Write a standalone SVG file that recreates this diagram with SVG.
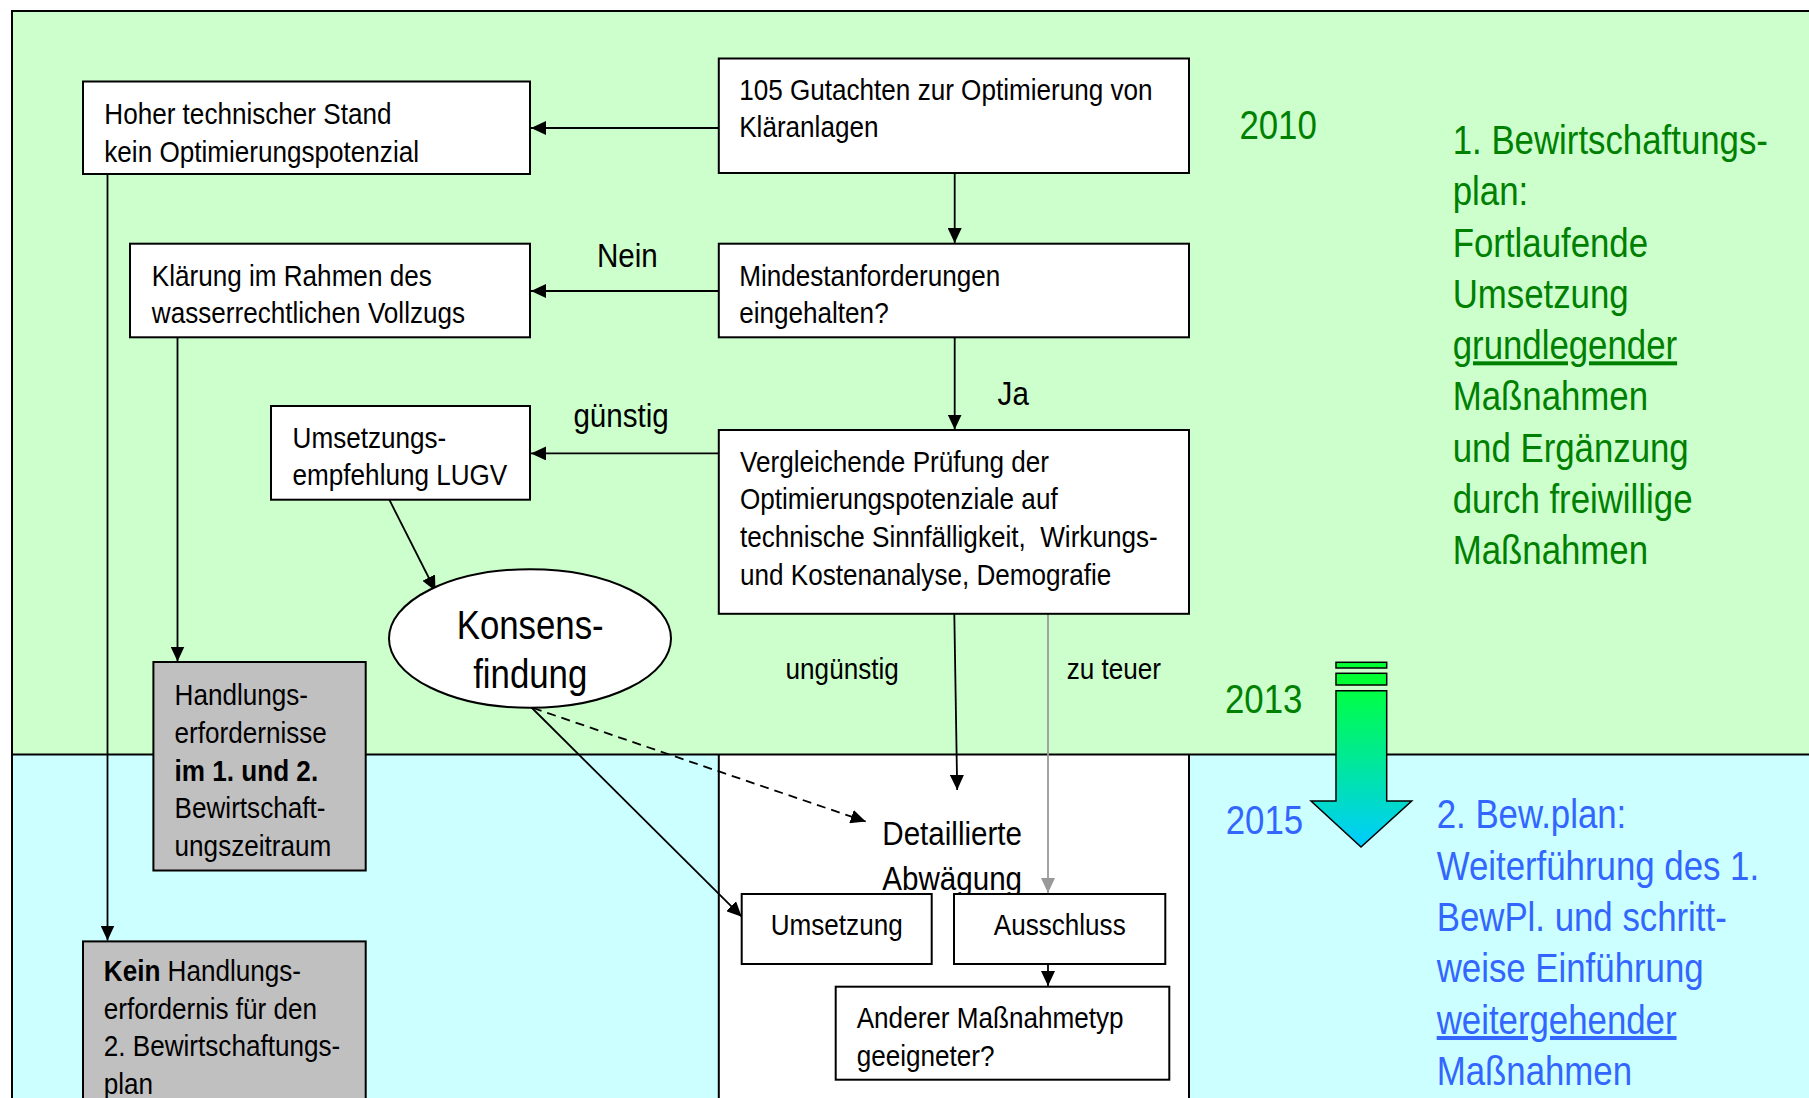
<svg xmlns="http://www.w3.org/2000/svg" width="1809" height="1098" viewBox="0 0 1809 1098">
<style>
.t{font-family:"Liberation Sans",Arial,sans-serif;font-size:30px;fill:#000}
.box{fill:#fff;stroke:#000;stroke-width:2}
.gbox{fill:#c0c0c0;stroke:#000;stroke-width:2}
.c{fill:none;stroke:#000;stroke-width:1.8}
.gr{fill:#008000;font-size:40px}
.bl{fill:#3366ff;font-size:40px}
.lab{font-size:34px}
</style>
<defs>
<marker id="ah" markerWidth="15" markerHeight="14" viewBox="0 0 15 14" refX="15" refY="7" orient="auto" markerUnits="userSpaceOnUse"><path d="M0,0 L15,7 L0,14 z" fill="#000"/></marker>
<marker id="ahg" markerWidth="15" markerHeight="14" viewBox="0 0 15 14" refX="15" refY="7" orient="auto" markerUnits="userSpaceOnUse"><path d="M0,0 L15,7 L0,14 z" fill="#999"/></marker>
<linearGradient id="arrGrad" x1="0" y1="690" x2="0" y2="847" gradientUnits="userSpaceOnUse">
<stop offset="0" stop-color="#00ff44"/><stop offset="1" stop-color="#00ccff"/>
</linearGradient>
</defs>

<g id="background">
<rect x="12" y="11" width="1800" height="743.5" fill="#ccffcc"/>
<rect x="12" y="754.5" width="1800" height="350" fill="#ccffff"/>
<rect x="718.8" y="754.5" width="470.2" height="350" fill="#fff"/>
<path d="M12,1100 V11 H1812" fill="none" stroke="#000" stroke-width="2"/>
<path d="M12,754.5 H1812" fill="none" stroke="#000" stroke-width="2"/>
<path d="M718.8,754.5 V1100 M1189,754.5 V1100" fill="none" stroke="#000" stroke-width="2"/>
</g>

<g id="labels-time">
<text class="t gr" transform="translate(1239.4,138.5) scale(.87,1)">2010</text>
<text class="t gr" transform="translate(1225,713.3) scale(.87,1)">2013</text>
<text class="t bl" transform="translate(1225.7,834.3) scale(.87,1)">2015</text>
</g>

<g id="text-plan1">
<text class="t gr" transform="translate(1452.7,154) scale(.87,1)">
<tspan x="0" y="0">1. Bewirtschaftungs-</tspan>
<tspan x="0" y="51.3">plan:</tspan>
<tspan x="0" y="102.6">Fortlaufende</tspan>
<tspan x="0" y="153.9">Umsetzung</tspan>
<tspan x="0" y="205.2" text-decoration="underline">grundlegender</tspan>
<tspan x="0" y="256.5">Maßnahmen</tspan>
<tspan x="0" y="307.8">und Ergänzung</tspan>
<tspan x="0" y="359.1">durch freiwillige</tspan>
<tspan x="0" y="410.4">Maßnahmen</tspan>
</text>
</g>

<g id="text-plan2">
<text class="t bl" transform="translate(1436.7,828.3) scale(.87,1)">
<tspan x="0" y="0">2. Bew.plan:</tspan>
<tspan x="0" y="51.4">Weiterführung des 1.</tspan>
<tspan x="0" y="102.8">BewPl. und schritt-</tspan>
<tspan x="0" y="154.2">weise Einführung</tspan>
<tspan x="0" y="205.6" text-decoration="underline">weitergehender</tspan>
<tspan x="0" y="257">Maßnahmen</tspan>
</text>
</g>

<g id="timeline-arrow">
<rect x="1336" y="662.3" width="50.7" height="5.7" fill="#00ff33" stroke="#000" stroke-width="1.5"/>
<rect x="1336" y="673.3" width="50.7" height="11.7" fill="#00ff33" stroke="#000" stroke-width="1.5"/>
<polygon points="1336,690.7 1386.7,690.7 1386.7,801 1411.7,801 1361,847 1311,801 1336,801" fill="url(#arrGrad)" stroke="#000" stroke-width="1.5"/>
</g>

<g id="n-abwaegung">
<text class="t" transform="translate(882.3,845) scale(.87,1)" style="font-size:34px">
<tspan x="0" y="0">Detaillierte</tspan>
<tspan x="0" y="45">Abwägung</tspan>
</text>
</g>

<g id="connectors">
<line class="c" x1="718.8" y1="128" x2="531" y2="128" marker-end="url(#ah)"/>
<line class="c" x1="718.8" y1="291" x2="531" y2="291" marker-end="url(#ah)"/>
<line class="c" x1="954.7" y1="173" x2="954.7" y2="243" marker-end="url(#ah)"/>
<line class="c" x1="954.7" y1="337.3" x2="954.7" y2="429.5" marker-end="url(#ah)"/>
<line class="c" x1="718.8" y1="453.4" x2="531" y2="453.4" marker-end="url(#ah)"/>
<line class="c" x1="389.3" y1="499.7" x2="435.5" y2="591" marker-end="url(#ah)"/>
<line class="c" x1="107.5" y1="174.2" x2="107.5" y2="940.5" marker-end="url(#ah)"/>
<line class="c" x1="177.5" y1="337.3" x2="177.5" y2="661.5" marker-end="url(#ah)"/>
<line class="c" x1="954.3" y1="613.8" x2="957.2" y2="790" marker-end="url(#ah)"/>
<line x1="1048" y1="613.8" x2="1048" y2="893" fill="none" stroke="#999" stroke-width="1.8" marker-end="url(#ahg)"/>
<line class="c" x1="533" y1="708" x2="865.7" y2="821.5" stroke-dasharray="9,6" marker-end="url(#ah)"/>
<line class="c" x1="531.5" y1="707.5" x2="741.7" y2="916.7" marker-end="url(#ah)"/>
<line class="c" x1="1048" y1="964" x2="1048" y2="986" marker-end="url(#ah)"/>
<text class="t lab" transform="translate(597,266.7) scale(.87,1)">Nein</text>
<text class="t lab" transform="translate(997.6,405) scale(.87,1)">Ja</text>
<text class="t lab" transform="translate(573.4,427) scale(.87,1)">günstig</text>
<text class="t" transform="translate(785.6,678.5) scale(.87,1)">ungünstig</text>
<text class="t" transform="translate(1066.7,679) scale(.87,1)">zu teuer</text>
</g>

<g id="n-hoher">
<rect class="box" x="83" y="81.5" width="447" height="92.5"/>
<text class="t" transform="translate(104.3,124) scale(.87,1)"><tspan x="0" y="0">Hoher technischer Stand</tspan><tspan x="0" y="37.7">kein Optimierungspotenzial</tspan></text>
</g>

<g id="n-gutachten">
<rect class="box" x="718.8" y="58.5" width="470.2" height="114.5"/>
<text class="t" transform="translate(739.2,100) scale(.87,1)"><tspan x="0" y="0">105 Gutachten zur Optimierung von</tspan><tspan x="0" y="37.3">Kläranlagen</tspan></text>
</g>

<g id="n-klaerung">
<rect class="box" x="130" y="243.7" width="400" height="93.6"/>
<text class="t" transform="translate(151.8,285.7) scale(.87,1)"><tspan x="0" y="0">Klärung im Rahmen des</tspan><tspan x="0" y="37.3">wasserrechtlichen Vollzugs</tspan></text>
</g>

<g id="n-mindest">
<rect class="box" x="718.8" y="243.7" width="470.2" height="93.6"/>
<text class="t" transform="translate(739.2,285.7) scale(.87,1)"><tspan x="0" y="0">Mindestanforderungen</tspan><tspan x="0" y="37.3">eingehalten?</tspan></text>
</g>

<g id="n-empfehlung">
<rect class="box" x="271" y="406" width="259" height="93.7"/>
<text class="t" transform="translate(292.6,448) scale(.87,1)"><tspan x="0" y="0">Umsetzungs-</tspan><tspan x="0" y="37.5">empfehlung LUGV</tspan></text>
</g>

<g id="n-vergleich">
<rect class="box" x="718.8" y="430" width="470.2" height="183.8"/>
<text class="t" transform="translate(740,471.5) scale(.87,1)" xml:space="preserve"><tspan x="0" y="0">Vergleichende Prüfung der</tspan><tspan x="0" y="38">Optimierungspotenziale auf</tspan><tspan x="0" y="76">technische Sinnfälligkeit,  Wirkungs-</tspan><tspan x="0" y="114">und Kostenanalyse, Demografie</tspan></text>
</g>

<g id="n-konsens">
<ellipse cx="530" cy="638.5" rx="141" ry="69.3" fill="#fff" stroke="#000" stroke-width="2"/>
<text class="t" text-anchor="middle" style="font-size:40px" transform="translate(530.2,639.3) scale(.87,1)"><tspan x="0" y="0">Konsens-</tspan><tspan x="0" y="49">findung</tspan></text>
</g>

<g id="n-handlung">
<rect class="gbox" x="153.4" y="662" width="212.3" height="208.5"/>
<text class="t" transform="translate(174.6,705) scale(.87,1)"><tspan x="0" y="0">Handlungs-</tspan><tspan x="0" y="37.8">erfordernisse</tspan><tspan x="0" y="75.6" font-weight="bold">im 1. und 2.</tspan><tspan x="0" y="113.4">Bewirtschaft-</tspan><tspan x="0" y="151.2">ungszeitraum</tspan></text>
</g>

<g id="n-kein">
<rect class="gbox" x="83" y="941.4" width="282.7" height="170"/>
<text class="t" transform="translate(103.8,981) scale(.87,1)"><tspan x="0" y="0"><tspan font-weight="bold">Kein</tspan> Handlungs-</tspan><tspan x="0" y="37.6">erfordernis für den</tspan><tspan x="0" y="75.2">2. Bewirtschaftungs-</tspan><tspan x="0" y="112.8">plan</tspan></text>
</g>

<g id="n-umsetzung">
<rect class="box" x="741.7" y="894" width="190" height="70"/>
<text class="t" text-anchor="middle" transform="translate(836.7,935.3) scale(.87,1)">Umsetzung</text>
</g>

<g id="n-ausschluss">
<rect class="box" x="954" y="894" width="211.3" height="70"/>
<text class="t" text-anchor="middle" transform="translate(1059.7,935.3) scale(.87,1)">Ausschluss</text>
</g>

<g id="n-anderer">
<rect class="box" x="835.7" y="986.7" width="333.6" height="93"/>
<text class="t" transform="translate(856.7,1028.3) scale(.87,1)"><tspan x="0" y="0">Anderer Maßnahmetyp</tspan><tspan x="0" y="37.4">geeigneter?</tspan></text>
</g>
</svg>
